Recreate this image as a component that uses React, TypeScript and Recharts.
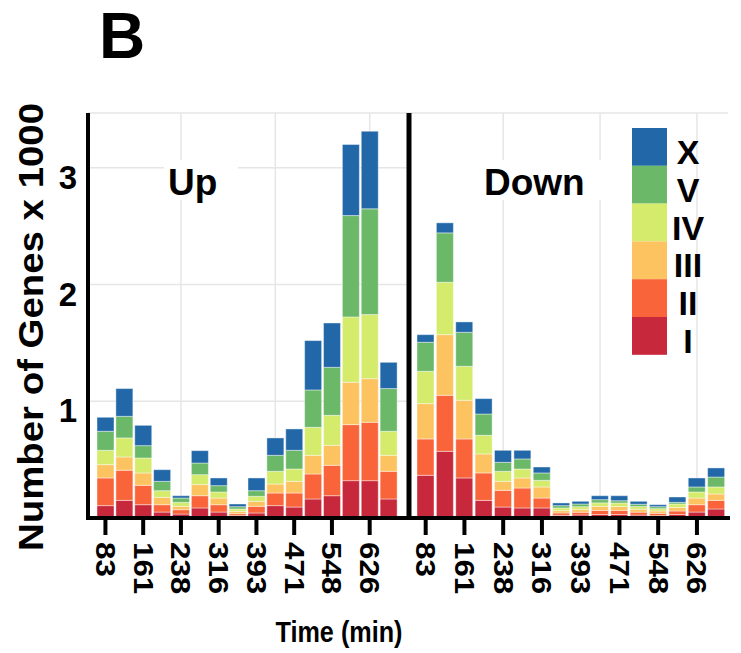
import { BarChart, Bar, XAxis, YAxis, CartesianGrid } from "recharts";

// time points (min), one per bar in each panel
const times = ["83", "122", "161", "199", "238", "277", "316", "354", "393", "432", "471", "509", "548", "587", "626", "664"];
const gridTimes = ["238", "432", "626"];
const yTicks = [1, 2, 3];

const classNames = ["I", "II", "III", "IV", "V", "X"];
const classColors = ["#c7283b", "#f9643a", "#fdc360", "#d4eb6c", "#6ab868", "#2268a8"];

// Up-regulated genes (x 1000), per class
const upI = [0.106, 0.151, 0.114, 0.051, 0.034, 0.086, 0.051, 0.02, 0.043, 0.106, 0.094, 0.163, 0.191, 0.32, 0.32, 0.163];
const upII = [0.237, 0.258, 0.166, 0.063, 0.037, 0.105, 0.063, 0.017, 0.057, 0.108, 0.12, 0.214, 0.26, 0.48, 0.5, 0.237];
const upIII = [0.114, 0.114, 0.106, 0.063, 0.029, 0.095, 0.057, 0.02, 0.043, 0.077, 0.1, 0.16, 0.172, 0.363, 0.374, 0.137];
const upIV = [0.123, 0.163, 0.128, 0.057, 0.034, 0.085, 0.052, 0.02, 0.043, 0.109, 0.106, 0.24, 0.257, 0.56, 0.549, 0.206];
const upV = [0.163, 0.185, 0.106, 0.08, 0.037, 0.1, 0.054, 0.02, 0.048, 0.137, 0.16, 0.32, 0.411, 0.868, 0.906, 0.366];
const upX = [0.12, 0.238, 0.174, 0.1, 0.02, 0.106, 0.066, 0.023, 0.109, 0.149, 0.183, 0.423, 0.38, 0.609, 0.665, 0.225];

// Down-regulated genes (x 1000), per class
const downI = [0.366, 0.571, 0.343, 0.151, 0.094, 0.086, 0.086, 0.023, 0.026, 0.03, 0.03, 0.025, 0.02, 0.03, 0.051, 0.077];
const downII = [0.311, 0.48, 0.334, 0.235, 0.143, 0.171, 0.085, 0.02, 0.023, 0.035, 0.035, 0.025, 0.02, 0.03, 0.063, 0.074];
const downIII = [0.303, 0.52, 0.332, 0.163, 0.077, 0.086, 0.095, 0.02, 0.023, 0.035, 0.033, 0.025, 0.02, 0.03, 0.057, 0.055];
const downIV = [0.277, 0.449, 0.291, 0.16, 0.086, 0.077, 0.057, 0.023, 0.025, 0.03, 0.03, 0.023, 0.02, 0.03, 0.052, 0.06];
const downV = [0.249, 0.423, 0.291, 0.182, 0.077, 0.086, 0.063, 0.02, 0.023, 0.027, 0.02, 0.02, 0.017, 0.014, 0.043, 0.085];
const downX = [0.065, 0.086, 0.089, 0.132, 0.103, 0.074, 0.051, 0.023, 0.023, 0.034, 0.043, 0.025, 0.017, 0.046, 0.077, 0.078];

const FONT = "'Liberation Sans', Arial, Helvetica, sans-serif";
const GRID = "#e6e6e6";

const build = (cols: number[][]) =>
  times.map((time, i) => {
    const row: Record<string, string | number> = { time };
    classNames.forEach((n, k) => (row[n] = cols[k][i]));
    return row;
  });

const upData = build([upI, upII, upIII, upIV, upV, upX]);
const downData = build([downI, downII, downIII, downIV, downV, downX]);

// vertical grid lines at a few time points, placed with the x scale
const gridX = (props: any) => {
  try {
    const sc = props && props.xAxis && props.xAxis.scale;
    if (!sc) return [];
    const f = typeof sc === "function" ? sc : typeof sc.map === "function" ? (v: string) => sc.map(v) : null;
    if (!f) return [];
    const bw = typeof sc.bandwidth === "function" ? sc.bandwidth() : 0;
    return gridTimes.map((t) => f(t) + bw / 2).filter((v) => Number.isFinite(v));
  } catch (e) {
    return [];
  }
};

function XTick(props: any) {
  const { x, y, payload } = props;
  const s = String(payload.value);
  return (
    <g transform={`translate(${x},${y})`}>
      <text
        transform="rotate(90)"
        x={0}
        y={9.5}
        textAnchor="start"
        fontSize={27}
        fontWeight="bold"
        fontFamily={FONT}
        fill="#000"
        textLength={s.length * 17.4}
        lengthAdjust="spacingAndGlyphs"
      >
        {s}
      </text>
    </g>
  );
}

function YTick(props: any) {
  const { x, y, payload } = props;
  return (
    <text x={x} y={y + 21} textAnchor="end" fontSize={33} fontWeight="bold" fontFamily={FONT} fill="#000">
      {payload.value}
    </text>
  );
}

function Panel({ data, width, yWidth, left, pad, marginRight, showY }: any) {
  return (
    <div style={{ position: "absolute", left, top: 0 }}>
      <BarChart
        width={width}
        height={653}
        data={data}
        margin={{ top: 113, right: marginRight, bottom: 0, left: 0 }}
        barCategoryGap={1}
      >
        <CartesianGrid stroke={GRID} strokeWidth={1.5} verticalCoordinatesGenerator={gridX} />
        <XAxis
          dataKey="time"
          interval={1}
          height={135}
          padding={pad}
          axisLine={{ stroke: "#000", strokeWidth: 4, strokeLinecap: "square" }}
          tickLine={{ stroke: "#000", strokeWidth: 4 }}
          tickSize={17}
          tickMargin={7}
          tick={<XTick />}
        />
        <YAxis
          width={yWidth}
          domain={[0, 3.47]}
          ticks={yTicks}
          axisLine={{ stroke: "#000", strokeWidth: showY ? 4 : 5 }}
          tickLine={false}
          tickSize={0}
          tickMargin={11}
          tick={showY ? <YTick /> : false}
        />
        {classNames.map((n, k) => (
          <Bar
            key={n}
            dataKey={n}
            stackId="a"
            fill={classColors[k]}
            stroke="rgba(255,255,255,0.7)"
            strokeWidth={0.6}
            isAnimationActive={false}
          />
        ))}
      </BarChart>
    </div>
  );
}

export default function App() {
  const legendItems = classNames.map((n, k) => ({ n, c: classColors[k] })).reverse();
  return (
    <div style={{ position: "absolute", left: 0, top: 0, width: 741, height: 653, background: "#fff" }}>
      <Panel data={upData} width={409} yWidth={88} left={0} pad={{ left: 8, right: 11 }} marginRight={0} showY />
      <Panel data={downData} width={361} yWidth={29} left={380} pad={{ left: 7, right: 2 }} marginRight={13} showY={false} />
      <svg width={741} height={653} style={{ position: "absolute", left: 0, top: 0, pointerEvents: "none" }}>
        <g fontFamily={FONT} fontWeight="bold" fill="#000">
          <text x={99} y={58} fontSize={64}>B</text>
          <text
            transform="translate(43,327) rotate(-90)"
            textAnchor="middle"
            fontSize={35}
            textLength={448}
            lengthAdjust="spacingAndGlyphs"
          >
            Number of Genes x 1000
          </text>
          <text x={339} y={642} textAnchor="middle" fontSize={30} textLength={127} lengthAdjust="spacingAndGlyphs">
            Time (min)
          </text>
          <rect x={164} y={160} width={74} height={40} fill="#fff" />
          <text x={168} y={195} fontSize={37}>Up</text>
          <rect x={481} y={160} width={124} height={40} fill="#fff" />
          <text x={484} y={195} fontSize={37}>Down</text>
          {legendItems.map((it, i) => (
            <g key={it.n}>
              <rect x={632} y={128 + i * 37.8} width={35} height={37.8} fill={it.c} />
              <text x={688} y={128 + i * 37.8 + 18.9 + 17} textAnchor="middle" fontSize={34}>
                {it.n}
              </text>
            </g>
          ))}
        </g>
      </svg>
    </div>
  );
}
